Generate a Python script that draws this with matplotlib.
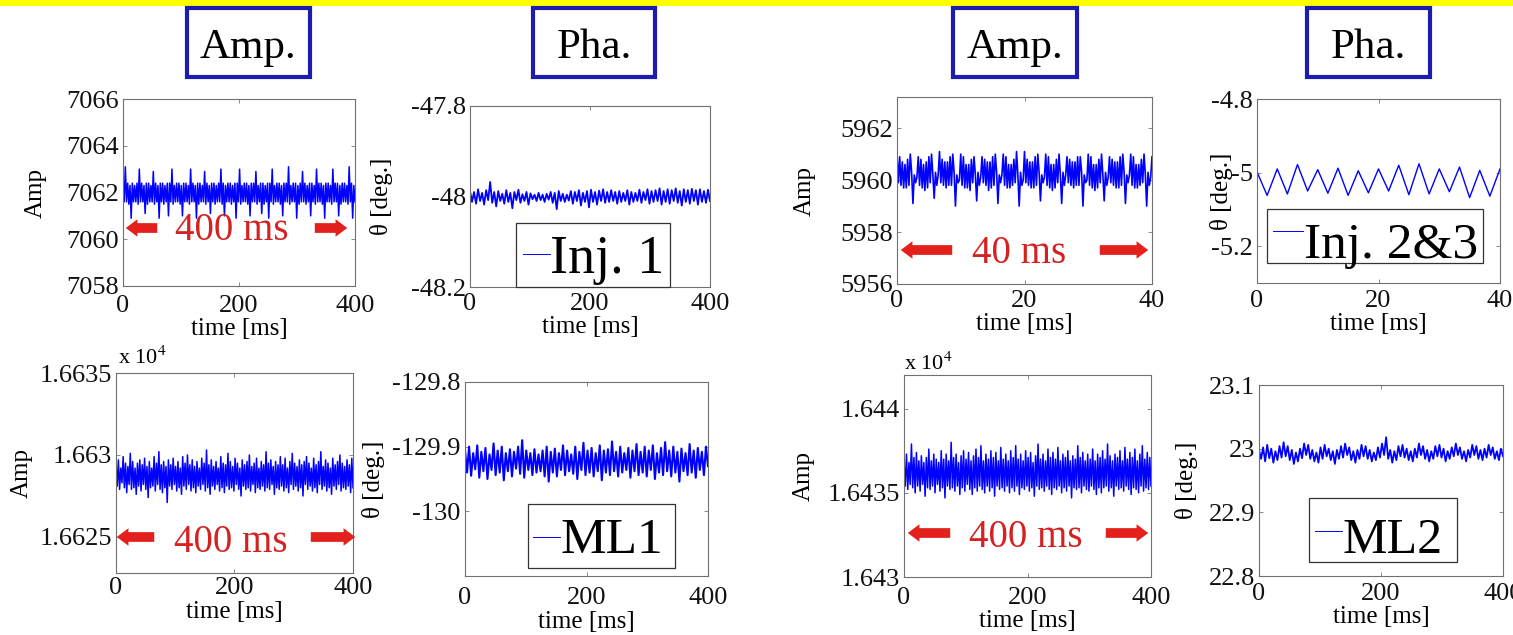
import numpy as np
import matplotlib
matplotlib.use('Agg')
import matplotlib.pyplot as plt
from matplotlib.patches import Rectangle, FancyArrowPatch
from matplotlib.ticker import FuncFormatter

# values (amplitude / phase traces)

amp_inj1 = [
    7062.4, 7061.6, 7063.1, 7061.6, 7062.4, 7061.5, 7062.3, 7060.9, 7062.4, 7061.6,
    7062.3, 7061.6, 7062.4, 7061.5, 7063.0, 7061.6, 7062.4, 7061.6, 7062.3, 7061.1,
    7062.4, 7061.5, 7062.4, 7061.6, 7062.3, 7061.6, 7062.9, 7061.5, 7062.4, 7061.6,
    7062.3, 7060.9, 7062.4, 7061.6, 7062.4, 7061.5, 7062.3, 7061.6, 7062.4, 7061.0,
    7062.4, 7061.6, 7063.0, 7061.5, 7062.3, 7061.6, 7062.4, 7061.6, 7062.4, 7061.5,
    7062.3, 7061.0, 7062.4, 7061.6, 7062.4, 7061.6, 7062.3, 7061.5, 7063.0, 7061.6,
    7062.4, 7061.6, 7062.3, 7060.9, 7062.4, 7061.5, 7062.4, 7061.6, 7062.3, 7061.6,
    7062.9, 7061.5, 7062.4, 7061.6, 7062.3, 7061.1, 7062.4, 7061.6, 7062.4, 7061.5,
    7062.3, 7061.6, 7062.4, 7061.6, 7063.0, 7061.5, 7062.4, 7061.0, 7062.3, 7061.6,
    7062.4, 7061.6, 7062.4, 7061.5, 7062.3, 7061.6, 7062.4, 7060.9, 7062.4, 7061.6,
    7063.0, 7061.5, 7062.3, 7061.6, 7062.4, 7061.6, 7062.4, 7061.5, 7062.3, 7061.0,
    7062.4, 7061.6, 7062.4, 7061.6, 7062.9, 7061.5, 7062.3, 7061.6, 7062.4, 7061.1,
    7062.4, 7061.5, 7062.3, 7061.6, 7062.4, 7060.9, 7062.4, 7061.6, 7063.0, 7061.5,
    7062.3, 7061.6, 7062.4, 7061.6, 7062.4, 7061.5, 7062.3, 7061.0, 7062.4, 7061.6,
    7062.4, 7061.6, 7063.1, 7061.5, 7062.3, 7061.6, 7062.4, 7061.6, 7062.4, 7060.9,
    7062.3, 7061.5, 7062.4, 7061.6, 7062.9, 7061.6, 7062.4, 7061.5, 7062.3, 7061.6,
    7062.4, 7061.0, 7062.4, 7061.6, 7062.3, 7061.5, 7063.0, 7061.6, 7062.4, 7061.6,
    7062.4, 7061.5, 7062.3, 7060.9, 7062.4, 7061.6, 7062.4, 7061.6, 7062.3, 7061.5,
    7063.0, 7061.6, 7062.4, 7061.6, 7062.4, 7061.0, 7062.3, 7061.5, 7062.4, 7061.6,
    7062.4, 7061.6, 7062.3, 7061.5, 7063.1, 7061.6, 7062.4, 7060.9, 7062.3, 7061.6,
]

pha_inj1 = [
    -47.988, -48.012, -47.990, -48.016, -47.984, -48.010, -47.992, -48.018, -47.986, -48.008,
    -47.968, -48.014, -47.990, -48.022, -47.988, -48.010, -47.994, -48.016, -47.986, -48.012,
    -47.992, -48.026, -47.990, -48.008, -47.985, -48.014, -47.995, -48.010, -47.990, -48.018,
    -47.993, -48.006, -47.996, -48.010, -47.992, -48.008, -47.996, -48.012, -47.994, -48.007,
    -47.990, -48.014, -47.992, -48.028, -47.988, -48.010, -47.994, -48.012, -47.996, -48.009,
    -47.988, -48.016, -47.990, -48.010, -47.986, -48.020, -47.992, -48.012, -47.988, -48.024,
    -47.985, -48.012, -47.990, -48.018, -47.987, -48.010, -47.984, -48.014, -47.990, -48.012,
    -47.986, -48.010, -47.990, -48.016, -47.988, -48.012, -47.992, -48.010, -47.986, -48.018,
    -47.990, -48.012, -47.992, -48.010, -47.985, -48.014, -47.990, -48.008, -47.984, -48.016,
    -47.988, -48.012, -47.986, -48.010, -47.982, -48.018, -47.988, -48.012, -47.984, -48.016,
    -47.986, -48.010, -47.982, -48.014, -47.988, -48.020, -47.984, -48.012, -47.986, -48.016,
    -47.983, -48.010, -47.986, -48.018, -47.984, -48.012, -47.988, -48.014, -47.985, -48.010,
]

amp_inj23 = [
    5961.0, 5959.9, 5960.9, 5959.8, 5960.7, 5959.7, 5960.6, 5959.7, 5960.8, 5959.8, 5961.0, 5960.3, 5959.1, 5960.2, 5959.9, 5960.1,
    5960.9, 5959.8, 5960.8, 5959.7, 5960.6, 5959.6, 5960.7, 5959.7, 5960.9, 5959.9, 5961.0, 5960.2, 5959.3, 5960.3, 5959.8, 5960.2,
    5961.1, 5959.9, 5960.8, 5959.8, 5960.7, 5959.7, 5960.7, 5959.8, 5960.9, 5959.8, 5961.0, 5960.3, 5959.0, 5960.2, 5959.9, 5960.0,
    5961.0, 5959.8, 5960.9, 5959.7, 5960.6, 5959.7, 5960.6, 5959.6, 5960.8, 5959.9, 5960.9, 5960.2, 5959.2, 5960.3, 5959.8, 5960.1,
    5960.9, 5959.9, 5960.8, 5959.8, 5960.7, 5959.6, 5960.7, 5959.7, 5960.9, 5959.8, 5961.0, 5960.3, 5959.1, 5960.2, 5959.9, 5960.2,
    5961.0, 5959.8, 5960.9, 5959.7, 5960.6, 5959.7, 5960.6, 5959.8, 5960.8, 5959.9, 5961.1, 5960.2, 5959.0, 5960.3, 5959.8, 5960.0,
    5961.1, 5959.9, 5960.8, 5959.8, 5960.7, 5959.7, 5960.7, 5959.7, 5960.9, 5959.8, 5961.0, 5960.3, 5959.2, 5960.2, 5959.9, 5960.1,
    5961.0, 5959.8, 5960.9, 5959.7, 5960.6, 5959.6, 5960.6, 5959.7, 5960.8, 5959.9, 5961.0, 5960.2, 5959.1, 5960.3, 5959.8, 5960.2,
    5960.9, 5959.9, 5960.8, 5959.8, 5960.7, 5959.7, 5960.7, 5959.8, 5960.9, 5959.8, 5960.9, 5960.3, 5959.0, 5960.2, 5959.9, 5960.0,
    5961.0, 5959.8, 5960.9, 5959.7, 5960.6, 5959.6, 5960.6, 5959.7, 5960.8, 5959.9, 5961.0, 5960.2, 5959.2, 5960.3, 5959.8, 5960.1,
    5960.9, 5959.9, 5960.8, 5959.8, 5960.7, 5959.7, 5960.7, 5959.7, 5960.9, 5959.8, 5961.0, 5960.3, 5959.1, 5960.2, 5959.9, 5960.2,
    5961.0, 5959.8, 5960.9, 5959.7, 5960.6, 5959.7, 5960.6, 5959.8, 5960.8, 5959.9, 5961.0, 5960.2, 5959.0, 5960.3, 5959.8, 5960.1,
    5960.9,
]

pha_inj23 = [
    -4.998, -5.062, -4.990, -5.058, -4.978, -5.050, -4.992, -5.056, -4.988, -5.062,
    -4.995, -5.055, -4.990, -5.050, -4.980, -5.060, -4.976, -5.058, -4.990, -5.052,
    -4.985, -5.068, -4.994, -5.064, -4.990,
]

amp_ml1 = [
    16629.4, 16628.1, 16629.7, 16627.9, 16629.2, 16628.3, 16629.9, 16628.0, 16629.5, 16627.7,
    16629.3, 16628.2, 16630.1, 16627.9, 16629.6, 16628.0, 16629.2, 16627.6, 16629.5, 16628.1,
    16629.7, 16627.8, 16629.4, 16628.2, 16629.8, 16627.9, 16629.3, 16627.4, 16629.6, 16628.0,
    16629.2, 16628.1, 16629.9, 16627.8, 16629.5, 16628.2, 16630.2, 16627.9, 16629.4, 16627.7,
    16629.6, 16628.0, 16629.3, 16627.1, 16629.7, 16628.1, 16629.4, 16627.9, 16629.8, 16628.2,
    16629.3, 16627.8, 16629.6, 16628.0, 16629.2, 16627.6, 16629.9, 16628.1, 16629.5, 16627.9,
    16630.0, 16628.2, 16629.4, 16627.8, 16629.7, 16628.0, 16629.3, 16627.7, 16629.6, 16628.1,
    16629.2, 16627.9, 16629.8, 16628.2, 16629.5, 16627.8, 16630.3, 16628.0, 16629.4, 16627.6,
    16629.7, 16628.1, 16629.3, 16627.9, 16629.6, 16628.2, 16629.2, 16627.8, 16629.9, 16628.0,
    16629.5, 16627.7, 16629.4, 16628.1, 16630.1, 16627.9, 16629.6, 16628.0, 16629.3, 16627.8,
    16629.8, 16628.2, 16629.5, 16627.9, 16629.2, 16627.5, 16629.7, 16628.1, 16629.4, 16627.9,
    16629.6, 16628.0, 16630.0, 16627.8, 16629.3, 16628.2, 16629.5, 16627.7, 16629.8, 16628.0,
    16629.2, 16627.9, 16629.6, 16628.1, 16629.4, 16627.8, 16630.2, 16628.0, 16629.5, 16627.9,
    16629.7, 16628.2, 16629.3, 16627.6, 16629.6, 16628.0, 16629.4, 16627.9, 16629.9, 16628.1,
    16629.4, 16627.8, 16629.8, 16628.0, 16629.2, 16627.7, 16629.6, 16628.2, 16630.1, 16627.9,
    16629.5, 16628.1, 16629.3, 16627.8, 16629.7, 16628.0, 16629.4, 16627.5, 16629.6, 16628.2,
    16629.9, 16627.9, 16629.5, 16628.1, 16629.2, 16627.8, 16629.8, 16628.0, 16629.4, 16627.7,
    16629.6, 16628.2, 16630.2, 16627.9, 16629.3, 16628.1, 16629.7, 16627.8, 16629.5, 16628.0,
    16629.2, 16627.6, 16629.8, 16628.1, 16629.4, 16627.9, 16629.6, 16628.2, 16630.0, 16627.8,
    16629.5, 16628.0, 16629.3, 16627.9, 16629.7, 16628.1, 16629.4, 16627.7, 16629.8, 16628.0,
]

pha_ml1 = [
    -129.905, -129.940, -129.900, -129.945, -129.910, -129.935, -129.898, -129.948, -129.908, -129.938,
    -129.902, -129.950, -129.912, -129.936, -129.895, -129.944, -129.906, -129.940, -129.900, -129.952,
    -129.910, -129.938, -129.904, -129.946, -129.908, -129.934, -129.900, -129.942, -129.890, -129.948,
    -129.906, -129.936, -129.910, -129.944, -129.904, -129.940, -129.912, -129.938, -129.906, -129.946,
    -129.900, -129.954, -129.908, -129.940, -129.903, -129.946, -129.910, -129.936, -129.898, -129.944,
    -129.906, -129.938, -129.912, -129.942, -129.900, -129.950, -129.908, -129.936, -129.894, -129.944,
    -129.906, -129.940, -129.902, -129.946, -129.910, -129.938, -129.898, -129.952, -129.906, -129.940,
    -129.904, -129.944, -129.892, -129.938, -129.908, -129.946, -129.900, -129.940, -129.910, -129.936,
    -129.902, -129.948, -129.906, -129.938, -129.896, -129.944, -129.908, -129.940, -129.900, -129.946,
    -129.906, -129.936, -129.898, -129.950, -129.910, -129.940, -129.902, -129.944, -129.893, -129.938,
    -129.906, -129.946, -129.900, -129.940, -129.908, -129.954, -129.903, -129.938, -129.910, -129.944,
    -129.896, -129.940, -129.906, -129.948, -129.902, -129.936, -129.908, -129.944, -129.900, -129.930,
]

amp_ml2 = [
    16436.9, 16435.4, 16437.3, 16435.2, 16436.8, 16435.5, 16437.9, 16435.3, 16437.1, 16435.0,
    16437.4, 16435.4, 16436.9, 16435.1, 16437.2, 16435.5, 16436.8, 16434.8, 16437.1, 16435.3,
    16437.6, 16435.2, 16436.9, 16435.4, 16437.3, 16435.0, 16437.0, 16435.5, 16436.8, 16435.1,
    16437.5, 16435.3, 16437.0, 16434.7, 16437.3, 16435.4, 16436.9, 16435.2, 16438.0, 16435.3,
    16437.1, 16435.1, 16437.3, 16435.4, 16436.8, 16434.9, 16437.2, 16435.3, 16437.5, 16435.1,
    16437.0, 16435.5, 16437.4, 16435.2, 16436.9, 16434.9, 16437.2, 16435.3, 16437.6, 16435.1,
    16437.1, 16435.4, 16437.8, 16435.2, 16436.9, 16435.0, 16437.3, 16435.4, 16437.0, 16435.1,
    16437.5, 16435.3, 16437.1, 16434.8, 16437.4, 16435.4, 16436.9, 16435.2, 16437.7, 16435.3,
    16437.0, 16435.1, 16437.3, 16435.4, 16436.9, 16435.0, 16437.5, 16435.3, 16437.1, 16435.1,
    16437.8, 16435.4, 16437.0, 16434.9, 16437.3, 16435.3, 16436.9, 16435.2, 16437.5, 16435.4,
    16437.1, 16435.1, 16437.4, 16435.3, 16436.8, 16434.8, 16437.2, 16435.4, 16437.9, 16435.2,
    16437.0, 16435.3, 16437.3, 16435.1, 16436.9, 16435.4, 16437.6, 16435.2, 16437.1, 16434.9,
    16437.4, 16435.3, 16437.0, 16435.2, 16437.7, 16435.4, 16436.9, 16435.0, 16437.3, 16435.3,
    16437.1, 16435.1, 16437.5, 16435.4, 16436.9, 16434.7, 16437.2, 16435.3, 16437.0, 16435.2,
    16437.8, 16435.3, 16437.1, 16435.0, 16437.4, 16435.4, 16436.9, 16435.2, 16437.3, 16435.1,
    16437.0, 16435.4, 16437.6, 16435.2, 16436.9, 16434.9, 16437.3, 16435.3, 16437.1, 16435.0,
    16437.5, 16435.3, 16437.0, 16435.4, 16437.9, 16435.1, 16437.2, 16435.3, 16436.9, 16434.8,
    16437.3, 16435.4, 16437.1, 16435.2, 16437.5, 16435.3, 16436.9, 16435.1, 16437.7, 16435.4,
    16437.0, 16435.2, 16437.4, 16434.9, 16437.1, 16435.3, 16437.6, 16435.2, 16436.9, 16435.0,
    16437.3, 16435.4, 16437.8, 16435.1, 16437.0, 16435.3, 16437.4, 16435.2, 16437.1, 16435.4,
]

pha_ml2 = [
    22.998, 22.984, 23.002, 22.980, 23.006, 22.985, 23.000, 22.978, 22.996, 22.982,
    23.004, 22.986, 23.010, 22.988, 23.004, 22.982, 22.998, 22.976, 22.994, 22.980,
    23.000, 22.985, 23.008, 22.990, 23.006, 22.984, 22.998, 22.980, 22.994, 22.978,
    23.002, 22.984, 23.006, 22.988, 23.000, 22.982, 22.996, 22.976, 22.998, 22.984,
    23.004, 22.986, 23.008, 22.990, 23.002, 22.982, 22.996, 22.978, 22.998, 22.984,
    23.006, 22.988, 23.004, 22.984, 22.998, 22.980, 22.994, 22.982, 23.002, 22.986,
    23.008, 22.990, 23.018, 22.984, 22.998, 22.978, 22.996, 22.982, 23.004, 22.988,
    23.006, 22.986, 23.000, 22.982, 22.996, 22.980, 23.000, 22.986, 23.008, 22.990,
    23.004, 22.984, 22.998, 22.980, 22.996, 22.984, 23.004, 22.988, 23.006, 22.986,
    23.000, 22.980, 22.996, 22.984, 23.002, 22.988, 23.008, 22.990, 23.002, 22.984,
    22.996, 22.980, 22.998, 22.986, 23.006, 22.990, 23.004, 22.984, 22.998, 22.982,
    23.000, 22.986, 23.006, 22.990, 23.002, 22.984, 22.996, 22.982, 23.000, 22.988,
]

headers = ["Amp.", "Pha.", "Amp.", "Pha."]
legend_names = ["Inj. 1", "Inj. 2&3", "ML1", "ML2"]
span_labels = ["400 ms", "40 ms", "400 ms", "400 ms"]

# ---------------------------------------------------------------

plt.rcParams['font.family'] = ['Liberation Serif', 'DejaVu Serif']
plt.rcParams['mathtext.fontset'] = 'stix'
plt.rcParams['axes.unicode_minus'] = False

W, H = 1513, 635
fig = plt.figure(figsize=(W / 100, H / 100), dpi=100)
fig.patch.set_facecolor('white')

BLUE = '#0000ff'
RED = '#e3201b'
HEAD_BLUE = '#1c1cb0'


def fx(x):
    return x / W


def fy(y):
    return 1 - y / H


def rect(x0, y0, x1, y1):
    return [fx(x0), fy(y1), (x1 - x0) / W, (y1 - y0) / H]


def panel(box, y, t_end, ylim, yticks, ylabel, lab_x, xpad, scale=1.0, lw=1.3):
    ax = fig.add_axes(rect(*box))
    vals = np.array(y) / scale
    t = np.linspace(0, t_end, len(vals))
    ax.plot(t, vals, color=BLUE, lw=lw)
    ax.set_xlim(0, t_end)
    ax.set_ylim(*ylim)
    ax.set_xticks([0, t_end / 2, t_end])
    ax.set_yticks(yticks)
    ax.xaxis.set_major_formatter(FuncFormatter(lambda v, p: '%g' % v))
    ax.yaxis.set_major_formatter(FuncFormatter(lambda v, p: '%g' % v))
    ax.tick_params(direction='in', top=True, right=True, length=3, width=0.6,
                   color='#777777', labelsize=19, labelcolor='#111111')
    ax.tick_params(axis='x', pad=xpad)
    ax.tick_params(axis='y', pad=3)
    for s in ax.spines.values():
        s.set_color('#707070')
        s.set_linewidth(0.8)
    ax.set_xlabel('time [ms]', fontsize=18, labelpad=1)
    ax.set_ylabel(ylabel, fontsize=18)
    ax.yaxis.set_label_coords(lab_x, 0.5)
    return ax


ax1 = panel((123, 99, 355, 286), amp_inj1, 400, (7058, 7066), [7058, 7060, 7062, 7064, 7066], 'Amp', -0.33, 6.5, lw=1.1)
ax2 = panel((470, 106, 710, 287), pha_inj1, 400, (-48.2, -47.8), [-48.2, -48, -47.8], 'θ [deg.]', -0.32, 4.3)
ax3 = panel((897, 97, 1152, 284), amp_inj23, 40, (5956, 5963.2), [5956, 5958, 5960, 5962], 'Amp', -0.32, 4.3, lw=1.2)
ax4 = panel((1257, 99, 1500, 283), pha_inj23, 40, (-5.3, -4.8), [-5.2, -5, -4.8], 'θ [deg.]', -0.10, 5, lw=1.0)
ax5 = panel((116, 373, 353, 573), amp_ml1, 400, (1.66228, 1.6635), [1.6625, 1.663, 1.6635], 'Amp', -0.35, 3, scale=1e4, lw=1.1)
ax6 = panel((465, 382, 708, 576), pha_ml1, 400, (-130.1, -129.8), [-130, -129.9, -129.8], 'θ [deg.]', -0.33, 8, lw=1.5)
ax7 = panel((904, 375, 1151, 577), amp_ml2, 400, (1.643, 1.6442), [1.643, 1.6435, 1.644], 'Amp', -0.36, 7, scale=1e4, lw=1.1)
ax8 = panel((1259, 385, 1503, 576), pha_ml2, 400, (22.8, 23.1), [22.8, 22.9, 23, 23.1], 'θ [deg.]', -0.25, 5)

# x 10^4 multipliers
fig.text(fx(118), fy(364), r'x 10$^{4}$', fontsize=16, ha='left', va='baseline')
fig.text(fx(904), fy(370), r'x 10$^{4}$', fontsize=16, ha='left', va='baseline')

# yellow strip on top of the slide
fig.add_artist(Rectangle((0, fy(6)), 1, 6 / H, transform=fig.transFigure,
                         facecolor='#ffff00', edgecolor='none'))

# header boxes
head_boxes = [(187, 8, 310, 77), (533, 8, 655, 77), (953, 8, 1077, 77), (1307, 8, 1430, 77)]
for (x0, y0, x1, y1), name in zip(head_boxes, headers):
    fig.add_artist(Rectangle((fx(x0), fy(y1)), (x1 - x0) / W, (y1 - y0) / H,
                             transform=fig.transFigure, fill=False,
                             edgecolor=HEAD_BLUE, linewidth=3))
    fig.text(fx((x0 + x1) / 2), fy(58), name, fontsize=31, ha='center', va='baseline')

# legend boxes (drawn by hand to match the slide geometry)
leg_boxes = [(516, 223, 670, 287), (1267, 209, 1483, 263), (528, 504, 675, 568), (1309, 498, 1457, 562)]
leg_lines = [(523, 550, 254), (1273, 1303, 231), (533, 560, 537), (1315, 1342, 531)]
leg_text = [(550, 273, 39), (1304, 258, 37), (560, 553, 37), (1342, 553, 36)]
for box, ln, tx, name in zip(leg_boxes, leg_lines, leg_text, legend_names):
    x0, y0, x1, y1 = box
    fig.add_artist(Rectangle((fx(x0), fy(y1)), (x1 - x0) / W, (y1 - y0) / H,
                             transform=fig.transFigure, facecolor='white',
                             edgecolor='#333333', linewidth=0.9, zorder=5))
    fig.add_artist(plt.Line2D([fx(ln[0]), fx(ln[1])], [fy(ln[2]), fy(ln[2])],
                              transform=fig.transFigure, color=BLUE, lw=0.7, zorder=6))
    fig.text(fx(tx[0]), fy(tx[1]), name, fontsize=tx[2], ha='left', va='baseline', zorder=6)

# red span arrows with text
spans = [
    (228, (160, 123), (312, 350), (232, 240)),
    (250, (955, 898), (1097, 1151), (1019, 263)),
    (537, (157, 114), (308, 358), (231, 552)),
    (533, (953, 905), (1103, 1151), (1026, 547)),
]
for (yy, left, right, tpos), lab in zip(spans, span_labels):
    for a, b in (left, right):
        fig.add_artist(FancyArrowPatch((fx(a), fy(yy)), (fx(b), fy(yy)),
                                       transform=fig.transFigure,
                                       arrowstyle='simple,head_length=0.6,head_width=0.9,tail_width=0.5',
                                       mutation_scale=14, color=RED, lw=0, zorder=7))
    fig.text(fx(tpos[0]), fy(tpos[1]), lab, fontsize=28, color='#d42222',
             ha='center', va='baseline', zorder=7)

fig.savefig('out.png', dpi=100)
